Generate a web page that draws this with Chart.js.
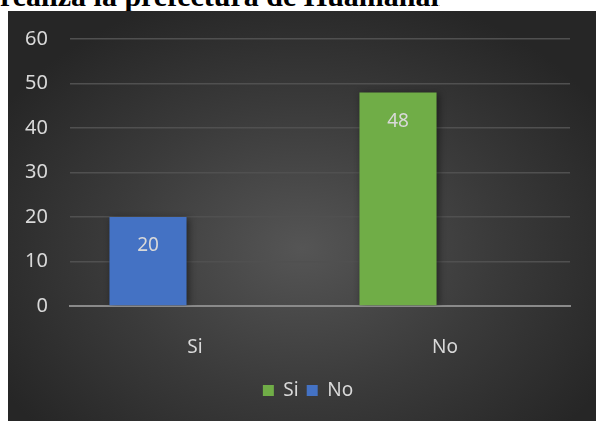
<!DOCTYPE html>
<html>
<head>
<meta charset="utf-8">
<script src="https://cdn.jsdelivr.net/npm/chart.js@4.4.1/dist/chart.umd.min.js"></script>
<style>
    html, body { margin: 0; padding: 0; background: #ffffff; width: 596px; height: 421px; overflow: hidden; }
    #caption {
        position: absolute; left: 0; top: -21px; width: 440px; text-align: right; line-height: 30px;
        font: bold 30px "Liberation Serif", "DejaVu Serif", serif; color: #000; white-space: nowrap; overflow: hidden;
    }
    #box {
        position: absolute; left: 8px; top: 11px; width: 588px; height: 410px;
        background: radial-gradient(ellipse 60% 65% at 50% 58%, #555555 0%, #3a3a3a 55%, #262626 100%);
    }
</style>
</head>
<body>
<div id="caption">realiza la prefectura de Huamanan.</div>
<div id="box"><canvas id="chart" width="588" height="410"></canvas></div>
<script>
const categories = ["Si", "No"];
const siValues = [null, 48];
const noValues = [20, null];
const spacerValues = [null, null];
const yTicks = [0, 10, 20, 30, 40, 50, 60];

const textColor = "#d9d9d9";
const fontFamily = "'Noto Sans', 'Open Sans', sans-serif";

// bar shadow + value labels inside the bars
const barExtras = {
    id: "barExtras",
    afterLayout(chart) {
        // legend sits a bit right of centre in the original
        chart.legend.left += 19;
        chart.legend.right += 19;
    },
    beforeDatasetsDraw(chart) {
        const ctx = chart.ctx;
        ctx.save();
        ctx.shadowColor = "rgba(0,0,0,0.45)";
        ctx.shadowBlur = 7;
        ctx.shadowOffsetX = 2;
        ctx.shadowOffsetY = 1;
    },
    afterDatasetsDraw(chart) {
        const ctx = chart.ctx;
        ctx.restore();
        ctx.save();
        ctx.fillStyle = textColor;
        ctx.font = "19px " + fontFamily;
        ctx.textAlign = "center";
        ctx.textBaseline = "middle";
        chart.data.datasets.forEach((ds, i) => {
            const meta = chart.getDatasetMeta(i);
            meta.data.forEach((bar, j) => {
                const v = ds.data[j];
                if (v === null || v === undefined) return;
                ctx.fillText(String(v), bar.x, bar.y + 29);
            });
        });
        ctx.restore();
    }
};

const ctx = document.getElementById("chart").getContext("2d");
new Chart(ctx, {
    type: "bar",
    data: {
        labels: categories,
        datasets: [
            {label: "Si", data: siValues, backgroundColor: "#70ad47", stack: "a", categoryPercentage: 0.752, barPercentage: 0.82},
            {label: "No", data: noValues, backgroundColor: "#4472c4", stack: "a", categoryPercentage: 0.752, barPercentage: 0.82},
            {label: "spacer", data: spacerValues, backgroundColor: "rgba(0,0,0,0)", stack: "b", categoryPercentage: 0.752, barPercentage: 0.82}
        ]
    },
    options: {
        responsive: false,
        animation: false,
        devicePixelRatio: 1,
        layout: {padding: {left: 0, right: 26, top: 28, bottom: 11}},
        scales: {
            x: {
                grid: {display: false, drawTicks: false},
                border: {display: true, color: "#8a8a8a", width: 2},
                ticks: {color: textColor, font: {family: fontFamily, size: 19}, padding: 30},
                afterFit: function (scale) { scale.height = 67; }
            },
            y: {
                min: 0,
                max: 60,
                afterBuildTicks: function (scale) { scale.ticks = yTicks.map(v => ({value: v})); },
                grid: {color: "#505050", lineWidth: 1.5, drawTicks: false},
                border: {display: false},
                ticks: {color: textColor, font: {family: fontFamily, size: 20}, padding: 22},
                afterFit: function (scale) {
                    scale.width = 62;
                    scale.paddingTop = 0;
                    scale.paddingBottom = 0;
                }
            }
        },
        plugins: {
            legend: {
                position: "bottom",
                labels: {
                    color: textColor,
                    font: {family: fontFamily, size: 19},
                    boxWidth: 11,
                    boxHeight: 11,
                    padding: 8,
                    filter: item => item.text !== "spacer"
                }
            },
            tooltip: {enabled: false}
        }
    },
    plugins: [barExtras]
});
</script>
</body>
</html>
